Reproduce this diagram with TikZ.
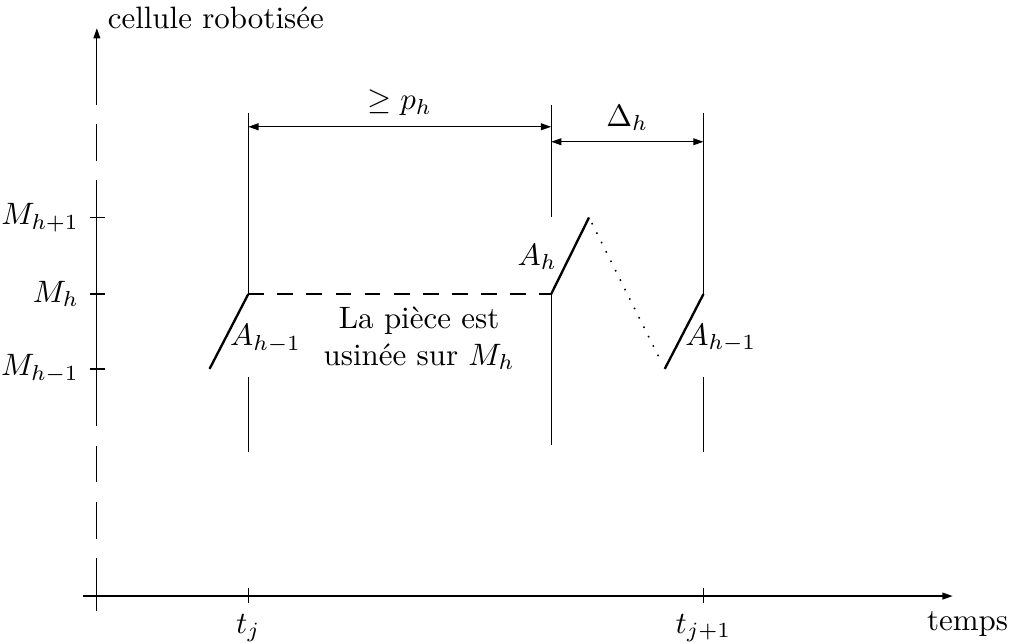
\documentclass[tikz,border=0pt]{standalone}
\usepackage{amsmath, amssymb}
\usepackage{tikz}
\usetikzlibrary{arrows.meta, positioning}

\begin{document}
\begin{tikzpicture}[
    >={Triangle[length=3.3pt, width=2.2pt]},
    guide/.style={line width=0.4pt},
    movearm/.style={line width=0.75pt},
    waitline/.style={line width=0.4pt, dash pattern=on 5.1pt off 4.3pt},
    emptymove/.style={line width=0.5pt, dash pattern=on 0.5pt off 2.9pt},
    dimarr/.style={<->, line width=0.4pt}
  ]
    \useasboundingbox (-1.1,-0.53) rectangle (10.36,6.77);

    % levels and instants
    \coordinate (ybot) at (0,-0.17);
    \coordinate (ytop) at (0,6.45);
    \coordinate (xbeg) at (-0.16,0);
    \coordinate (xend) at (9.72,0);
    \coordinate (mhp) at (0,4.30);
    \coordinate (mh) at (0,3.43);
    \coordinate (mhm) at (0,2.58);
    \coordinate (tj) at (1.72,0);
    \coordinate (tm) at (5.16,0);
    \coordinate (tjj) at (6.89,0);
    \coordinate (gtop) at (0,5.49);
    \coordinate (gtopm) at (0,5.58);
    \coordinate (glow) at (0,2.49);
    \coordinate (gbot) at (0,1.64);
    \coordinate (gbotm) at (0,1.72);
    \coordinate (dp) at (0,5.33);
    \coordinate (dd) at (0,5.16);

    % axes
    \draw[->, line width=0.4pt] (xbeg) -- (xend);
    \draw[->, line width=0.4pt, dash pattern=on 0.6cm off 0.22cm on 0.42cm off 0.22cm on 0.42cm off 0.22cm on 2.79cm off 0.22cm on 0.42cm off 0.22cm on 0.86cm] (ybot) -- (ytop);
    \node[anchor=base west] (ylab) at (ytop) {cellule robotisée};
    \node[anchor=base] (xlab) at (9.89,-0.39) {temps};

    \foreach \lev/\lab in {mhp/M_{h+1}, mh/M_h, mhm/M_{h-1}} {
      \draw[guide] ([xshift=-0.08cm]\lev) -- ([xshift=0.09cm]\lev);
      \node[left=0.08cm of \lev] {$\lab$};
    }
    \foreach \t/\lab in {tj/t_j, tjj/t_{j+1}} {
      \draw[guide] ([yshift=-0.08cm]\t) -- ([yshift=0.09cm]\t);
      \node[below=0.08cm of \t] {$\lab$};
    }

    % robot moves
    \coordinate (aLa) at (1.28,2.58);
    \coordinate (aLb) at (tj |- mh);
    \coordinate (aHa) at (tm |- mh);
    \coordinate (aHb) at (5.59,4.30);
    \coordinate (aRa) at (6.45,2.58);
    \coordinate (aRb) at (tjj |- mh);

    \draw[movearm] (aLa) -- (aLb);
    \draw[movearm] (aHa) -- (aHb);
    \draw[movearm] (aRa) -- (aRb);
    \draw[waitline] (aLb) -- (aHa);
    \draw[emptymove, shorten <=2pt, shorten >=2pt] (aHb) -- (aRa);

    % guides
    \draw[guide] (tj |- gtop) -- (aLb);
    \draw[guide] (tj |- glow) -- (tj |- gbot);
    \draw[guide] (tm |- gtopm) -- (tm |- mhp);
    \draw[guide] (aHa) -- (tm |- gbotm);
    \draw[guide] (tjj |- gtop) -- (aRb);
    \draw[guide] (tjj |- glow) -- (tjj |- gbot);

    % durations
    \draw[dimarr] (tj |- dp) -- node[above] (plab) {$\geq p_h$} (tm |- dp);
    \draw[dimarr] (tm |- dd) -- node[above] (dlab) {$\Delta_h$} (tjj |- dd);

    % labels
    \node[anchor=west] (lAL) at (1.39,2.92) {$A_{h-1}$};
    \node[anchor=east] (lAH) at (5.35,3.85) {$A_h$};
    \node[anchor=west] (lAR) at (6.56,2.93) {$A_{h-1}$};
    \node[align=center] (txt) at (3.66,2.93) {La pièce est\\usinée sur $M_h$};
\end{tikzpicture}
\end{document}
